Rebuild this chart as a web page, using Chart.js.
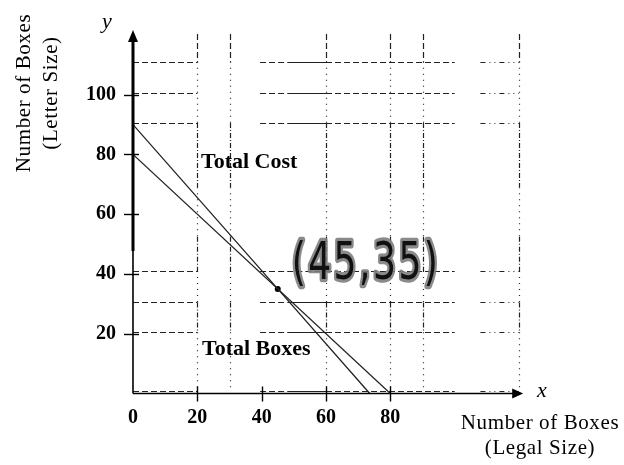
<!DOCTYPE html>
<html>
<head>
<meta charset="utf-8">
<script src="https://cdn.jsdelivr.net/npm/chart.js@4.4.1/dist/chart.umd.min.js"></script>
<style>
  html, body { margin: 0; padding: 0; background: #ffffff; }
  #wrap { width: 624px; height: 465px; }
</style>
</head>
<body>
<div id="wrap"><canvas id="c" width="624" height="465"></canvas></div>
<script>
// ---------- data ----------
const xTickValues = [0, 20, 40, 60, 80];
const yTickValues = [20, 40, 60, 80, 100];
const costX = [0, 45, 73.6];
const costY = [90, 35, 0];
const boxesX = [0, 80];
const boxesY = [80, 0];
const solutionX = [45];
const solutionY = [35];
const gridXValues = [20, 30, 60, 80, 90, 120];
const gridYValues = [111, 100.5, 90.5, 41, 30.5, 20.5, 1];
const xRange = [0, 120];
const yRange = [0, 122];

const costLabel = 'Total Cost';
const boxesLabel = 'Total Boxes';
const pointLabel = '(45,35)';
const xTitle = ['Number of Boxes', '(Legal Size)'];
const yTitle = ['Number of Boxes', '(Letter Size)'];

// ---------- styles ----------
const DASH = [6, 3], DOT = [1, 5], DASHDOT = [5, 2, 1, 2], DDD = [5, 4, 1, 4, 1, 4], SOLID = [];
const vSegments = [
  [120.3, 111, DASH], [111, 90.5, DOT], [90.5, 69, DASHDOT], [69, 52.5, DOT],
  [52.5, 41, DASHDOT], [41, 30.5, DOT], [30.5, 20.5, DASHDOT], [20.5, 1, DOT]
];
function hSegmentsFor(yv) {
  const mid = (yv === 41) ? DASH : SOLID;
  return [[0, 20, DASH], [39.5, 48, DASH], [48, 60, mid], [60, 100, DASH], [108, 120, DDD]];
}

const serif = "'Liberation Serif', 'Times New Roman', serif";

const drawPlugin = {
  id: 'sketch',
  beforeDatasetsDraw(chart) {
    const ctx = chart.ctx, xs = chart.scales.x, ys = chart.scales.y;
    ctx.save();
    ctx.strokeStyle = '#222';
    ctx.lineWidth = 1.2;
    gridXValues.forEach(xv => {
      const px = Math.round(xs.getPixelForValue(xv)) + 0.5;
      vSegments.forEach(([a, b, d]) => {
        ctx.setLineDash(d);
        ctx.beginPath();
        ctx.moveTo(px, ys.getPixelForValue(a));
        ctx.lineTo(px, ys.getPixelForValue(b));
        ctx.stroke();
      });
    });
    gridYValues.forEach(yv => {
      const py = Math.round(ys.getPixelForValue(yv)) + 0.5;
      hSegmentsFor(yv).forEach(([a, b, d]) => {
        ctx.setLineDash(d);
        ctx.beginPath();
        ctx.moveTo(xs.getPixelForValue(a), py);
        ctx.lineTo(xs.getPixelForValue(b), py);
        ctx.stroke();
      });
    });
    ctx.restore();
  },
  afterDraw(chart) {
    const ctx = chart.ctx, xs = chart.scales.x, ys = chart.scales.y;
    const x0 = xs.getPixelForValue(0), y0 = ys.getPixelForValue(0);
    ctx.save();
    ctx.setLineDash([]);
    ctx.strokeStyle = '#000';
    ctx.fillStyle = '#000';
    // y axis: thick upper part, thin lower part
    ctx.lineWidth = 3;
    ctx.beginPath();
    ctx.moveTo(x0, ys.getPixelForValue(119));
    ctx.lineTo(x0, ys.getPixelForValue(47.7));
    ctx.stroke();
    ctx.lineWidth = 1.6;
    ctx.beginPath();
    ctx.moveTo(x0, ys.getPixelForValue(47.7));
    ctx.lineTo(x0, y0);
    ctx.stroke();
    // y arrow
    const yTip = ys.getPixelForValue(yRange[1]) + 1;
    ctx.beginPath();
    ctx.moveTo(x0, yTip);
    ctx.lineTo(x0 - 5, yTip + 12);
    ctx.lineTo(x0 + 5, yTip + 12);
    ctx.closePath();
    ctx.fill();
    // x axis
    const xTip = xs.getPixelForValue(121.3);
    ctx.lineWidth = 1.6;
    ctx.beginPath();
    ctx.moveTo(x0, y0);
    ctx.lineTo(xTip - 8, y0);
    ctx.stroke();
    ctx.beginPath();
    ctx.moveTo(xTip, y0);
    ctx.lineTo(xTip - 11, y0 - 5);
    ctx.lineTo(xTip - 11, y0 + 5);
    ctx.closePath();
    ctx.fill();
    // tick marks
    ctx.lineWidth = 1.4;
    yTickValues.forEach(v => {
      const py = Math.round(ys.getPixelForValue(v)) + 0.5;
      ctx.beginPath();
      ctx.moveTo(x0 - 9, py);
      ctx.lineTo(x0 + 6, py);
      ctx.stroke();
    });
    xTickValues.filter(v => v !== 0).forEach(v => {
      const px = Math.round(xs.getPixelForValue(v)) + 0.5;
      ctx.beginPath();
      ctx.moveTo(px, y0 - 7);
      ctx.lineTo(px, y0 + 8);
      ctx.stroke();
    });
    // axis letters
    ctx.font = 'italic 22px ' + serif;
    ctx.textAlign = 'center';
    ctx.textBaseline = 'middle';
    ctx.fillText('y', 107, 22);
    ctx.fillText('x', 542, 391);
    // axis titles
    ctx.font = '21px ' + serif;
    ctx.letterSpacing = '0.6px';
    ctx.fillText(xTitle[0], 540, 423);
    ctx.fillText(xTitle[1], 540, 448);
    ctx.save();
    ctx.translate(24, 93);
    ctx.rotate(-Math.PI / 2);
    ctx.fillText(yTitle[0], 0, 0);
    ctx.restore();
    ctx.save();
    ctx.translate(51, 93);
    ctx.rotate(-Math.PI / 2);
    ctx.fillText(yTitle[1], 0, 0);
    ctx.restore();
    ctx.letterSpacing = '0px';
    // line labels
    ctx.font = 'bold 22px ' + serif;
    ctx.textAlign = 'left';
    ctx.fillText(costLabel, 201, 162);
    ctx.fillText(boxesLabel, 202, 349);
    // handwritten point label
    ctx.save();
    ctx.translate(366, 266);
    ctx.scale(0.82, 1.18);
    ctx.font = "44px 'DejaVu Sans', sans-serif";
    ctx.letterSpacing = '3px';
    ctx.textAlign = 'center';
    ctx.textBaseline = 'middle';
    ctx.lineJoin = 'round';
    ctx.lineCap = 'round';
    ctx.strokeStyle = 'rgba(125,125,125,0.9)';
    ctx.lineWidth = 5.5;
    ctx.strokeText(pointLabel, 0, 0);
    ctx.fillStyle = '#111';
    ctx.fillText(pointLabel, 0, 0);
    ctx.restore();
    ctx.restore();
  }
};

const toPts = (xa, ya) => xa.map((x, i) => ({ x: x, y: ya[i] }));

new Chart(document.getElementById('c'), {
  type: 'scatter',
  data: {
    datasets: [
      { label: costLabel, data: toPts(costX, costY), showLine: true, borderColor: '#222', borderWidth: 1.3, pointRadius: 0, fill: false },
      { label: boxesLabel, data: toPts(boxesX, boxesY), showLine: true, borderColor: '#222', borderWidth: 1.2, pointRadius: 0, fill: false },
      { label: 'solution', data: toPts(solutionX, solutionY), showLine: false, pointRadius: 3, pointBackgroundColor: '#000', pointBorderColor: '#000', pointBorderWidth: 0 }
    ]
  },
  options: {
    responsive: false,
    devicePixelRatio: 1,
    animation: false,
    layout: { padding: { top: 14, right: 105, left: 0, bottom: 0 } },
    plugins: { legend: { display: false }, tooltip: { enabled: false } },
    scales: {
      x: {
        type: 'linear', min: xRange[0], max: xRange[1],
        afterBuildTicks: s => { s.ticks = xTickValues.map(v => ({ value: v })); },
        afterFit: s => { s.height = 71.5; },
        grid: { display: false, drawTicks: false },
        border: { display: false },
        ticks: { color: '#000', padding: 12, maxRotation: 0, autoSkip: false, font: { family: serif, weight: 'bold', size: 20 } }
      },
      y: {
        type: 'linear', min: yRange[0], max: yRange[1],
        afterBuildTicks: s => { s.ticks = yTickValues.map(v => ({ value: v })); },
        afterFit: s => { s.width = 133; },
        grid: { display: false, drawTicks: false },
        border: { display: false },
        ticks: { color: '#000', padding: 17, autoSkip: false, font: { family: serif, weight: 'bold', size: 20 } }
      }
    }
  },
  plugins: [drawPlugin]
});
</script>
</body>
</html>
